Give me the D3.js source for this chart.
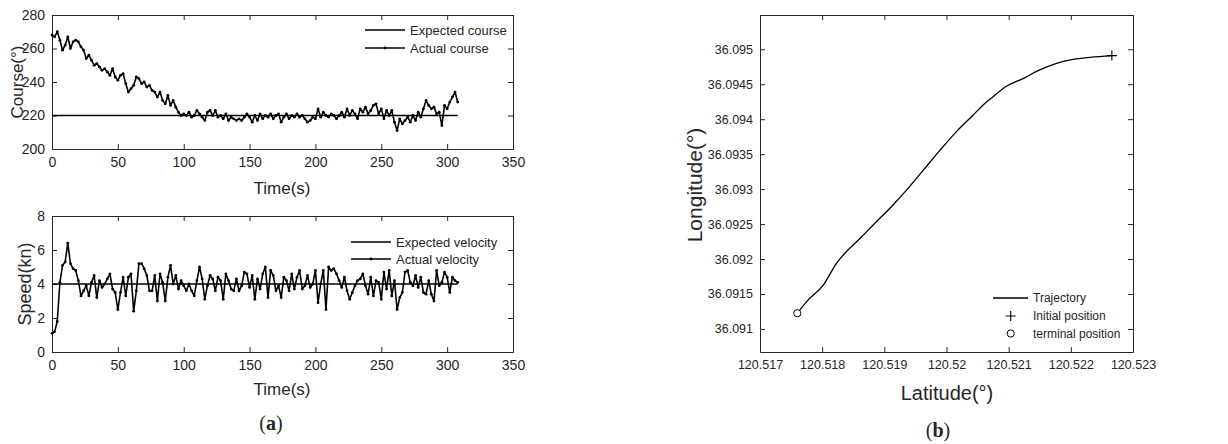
<!DOCTYPE html>
<html lang="en">
    <head>
        <meta charset="utf-8">
        <title>Course, speed and trajectory</title>
        <script src="https://d3js.org/d3.v7.min.js" charset="utf-8"></script>
        <style>
            body { margin: 0; background: #fff; }
            text { font-family: "Liberation Sans", Arial, sans-serif; fill: #262626; }
        </style>
    </head>
    <body>
        <script type="text/javascript">

            // page size
            var w = 1228;
            var h = 444;

            // sample times (s), one sample every 2 s
            var time = d3.range(0, 309, 2);

            // course (deg)
            var expectedCourse = 220;
            var actualCourse = [
                268,267,270,265,259,262,267,260,264,265,
                264,261,259,254,256,253,250,251,249,247,
                248,246,244,248,243,241,244,245,239,234,
                236,238,243,242,239,240,237,238,235,234,
                231,234,229,227,232,226,229,225,222,220,
                221,220,222,219,220,223,221,219,217,222,
                223,220,223,219,220,218,221,217,219,218,
                217,218,217,219,221,219,216,220,217,221,
                218,220,219,221,218,220,221,216,219,221,
                218,220,219,221,219,220,218,216,217,219,
                218,224,219,222,220,219,221,220,218,220,
                222,219,224,220,223,221,218,224,222,225,
                221,223,226,227,221,224,218,223,220,223,
                216,211,218,215,217,219,216,220,217,222,
                219,224,229,226,224,225,221,222,214,226,
                224,228,231,234,228
            ];

            // speed (kn)
            var expectedSpeed = 4;
            var actualSpeed = [
                1.1,1.2,1.8,4.1,5.1,5.3,6.4,5.2,4.9,4.8,
                4.2,3.3,3.6,3.9,3.3,4.1,4.5,3.2,4.2,3.8,
                4.0,4.3,4.6,3.7,3.5,2.5,3.5,4.4,3.3,4.4,
                4.6,2.4,3.6,5.2,5.2,4.9,4.5,3.6,3.6,4.5,
                3.0,4.6,4.1,3.0,4.4,5.1,4.0,4.5,3.7,4.2,
                3.9,3.6,4.0,3.6,3.3,4.2,5.0,4.3,3.1,3.9,
                4.5,4.3,3.6,4.4,4.2,3.1,4.6,4.2,3.7,3.6,
                4.3,3.6,3.9,4.7,4.6,3.8,4.5,3.1,4.3,3.7,
                4.6,5.0,3.2,4.8,4.5,3.6,3.9,3.2,4.4,4.2,
                3.6,4.6,3.7,4.4,4.8,3.7,3.9,4.5,3.8,4.0,
                4.8,2.9,4.0,4.8,2.5,5.0,4.8,4.9,4.6,4.2,
                3.8,4.4,3.6,3.1,3.5,3.9,4.2,4.3,4.6,3.9,
                3.4,4.4,3.3,4.2,4.1,3.1,4.7,3.7,4.8,3.3,
                4.2,2.5,3.2,3.5,4.7,4.8,4.1,3.9,4.5,3.8,
                4.4,3.5,3.4,4.2,3.4,3.0,4.8,3.9,4.1,4.7,
                4.4,3.5,4.4,4.2,4.1
            ];

            // trajectory (deg), from the terminal point to the initial point
            var trackLat = [120.51760,120.51775,120.51802,120.51823,120.51834,120.51861,120.51882,
                120.51914,120.51936,120.51963,120.51990,120.52016,120.52043,120.52059,
                120.52075,120.52097,120.52124,120.52150,120.52177,120.52204,120.52231,120.52266];
            var trackLon = [36.091224,36.091391,36.091629,36.091939,36.092058,36.092296,36.092487,
                36.092773,36.092988,36.093274,36.093560,36.093822,36.094060,36.094203,
                36.094322,36.094475,36.094584,36.094704,36.094799,36.094856,36.094885,36.094909];

            // tick values
            var timeTicks = [0, 50, 100, 150, 200, 250, 300, 350];
            var courseTicks = [200, 220, 240, 260, 280];
            var speedTicks = [0, 2, 4, 6, 8];
            var latTicks = [120.517, 120.518, 120.519, 120.520, 120.521, 120.522, 120.523];
            var lonTicks = [36.091, 36.0915, 36.092, 36.0925, 36.093, 36.0935, 36.094, 36.0945, 36.095];

            var svg = d3.select("body")
                .append("svg")
                .attr("width", w)
                .attr("height", h);

            // MATLAB style box: inward ticks on all four sides
            function drawBox(x, y, xTicks, yTicks, xFmt, yFmt, fontSize) {

                var x0 = x.range()[0], x1 = x.range()[1];
                var y0 = y.range()[0], y1 = y.range()[1];
                var g = svg.append("g");

                g.append("g").attr("transform", "translate(0," + y0 + ")")
                    .call(d3.axisBottom(x).tickValues(xTicks).tickFormat(xFmt).tickSizeInner(-5).tickSizeOuter(0).tickPadding(8));
                g.append("g").attr("transform", "translate(" + x0 + ",0)")
                    .call(d3.axisLeft(y).tickValues(yTicks).tickFormat(yFmt).tickSizeInner(-5).tickSizeOuter(0).tickPadding(7));
                g.append("g").attr("transform", "translate(0," + y1 + ")")
                    .call(d3.axisTop(x).tickValues(xTicks).tickFormat("").tickSizeInner(-5).tickSizeOuter(0));
                g.append("g").attr("transform", "translate(" + x1 + ",0)")
                    .call(d3.axisRight(y).tickValues(yTicks).tickFormat("").tickSizeInner(-5).tickSizeOuter(0));

                g.selectAll("path.domain").attr("stroke", "#262626");
                g.selectAll(".tick line").attr("stroke", "#262626");
                g.selectAll(".tick text")
                    .attr("fill", "#262626")
                    .style("font-family", "'Liberation Sans', Arial, sans-serif")
                    .style("font-size", fontSize + "px");
                return g;
            }

            function legendRow(lx, ly, label, kind, fontSize) {
                svg.append("line")
                    .attr("x1", lx).attr("x2", lx + 40)
                    .attr("y1", ly).attr("y2", ly)
                    .attr("stroke", "#000").attr("stroke-width", 1.3);
                if (kind == "dotline") {
                    svg.append("circle").attr("cx", lx + 20).attr("cy", ly).attr("r", 1.4).attr("fill", "#000");
                }
                svg.append("text")
                    .attr("x", lx + 45).attr("y", ly)
                    .attr("dy", "0.35em")
                    .style("font-size", fontSize + "px")
                    .text(label);
            }

            function seriesLine(x, y, values) {
                var pts = values.map(function (v, i) { return [time[i], v]; });
                svg.append("path")
                    .datum(pts)
                    .attr("fill", "none")
                    .attr("stroke", "#000")
                    .attr("stroke-width", 1.6)
                    .attr("stroke-linejoin", "round")
                    .attr("d", d3.line().x(function (d) { return x(d[0]); }).y(function (d) { return y(d[1]); }));
                svg.append("g").selectAll("circle")
                    .data(pts)
                    .enter()
                    .append("circle")
                    .attr("cx", function (d) { return x(d[0]); })
                    .attr("cy", function (d) { return y(d[1]); })
                    .attr("r", 1.4)
                    .attr("fill", "#000");
            }

            function flatLine(x, y, v) {
                svg.append("line")
                    .attr("x1", x(time[0])).attr("x2", x(time[time.length - 1]))
                    .attr("y1", y(v)).attr("y2", y(v))
                    .attr("stroke", "#000").attr("stroke-width", 1.4);
            }

            // ---------- course panel ----------
            var xTop = d3.scaleLinear().domain([0, 350]).range([52, 513]);
            var yCourse = d3.scaleLinear().domain([200, 280]).range([149, 15]);

            drawBox(xTop, yCourse, timeTicks, courseTicks, d3.format("d"), d3.format("d"), 14);
            flatLine(xTop, yCourse, expectedCourse);
            seriesLine(xTop, yCourse, actualCourse);

            svg.append("text")
                .attr("transform", "translate(23,82) rotate(-90)")
                .attr("text-anchor", "middle")
                .style("font-size", "17px")
                .text("Course(°)");
            svg.append("text")
                .attr("x", 282).attr("y", 194)
                .attr("text-anchor", "middle")
                .style("font-size", "17px")
                .text("Time(s)");

            legendRow(365, 30, "Expected course", "line", 13);
            legendRow(365, 48, "Actual course", "dotline", 13);

            // ---------- speed panel ----------
            var xBot = d3.scaleLinear().domain([0, 350]).range([52, 513]);
            var ySpeed = d3.scaleLinear().domain([0, 8]).range([352, 216]);

            drawBox(xBot, ySpeed, timeTicks, speedTicks, d3.format("d"), d3.format("d"), 14);
            flatLine(xBot, ySpeed, expectedSpeed);
            seriesLine(xBot, ySpeed, actualSpeed);

            svg.append("text")
                .attr("transform", "translate(31,284) rotate(-90)")
                .attr("text-anchor", "middle")
                .style("font-size", "18px")
                .text("Speed(kn)");
            svg.append("text")
                .attr("x", 282).attr("y", 395)
                .attr("text-anchor", "middle")
                .style("font-size", "17px")
                .text("Time(s)");

            legendRow(351, 242, "Expected velocity", "line", 13);
            legendRow(351, 259, "Actual velocity", "dotline", 13);

            // ---------- trajectory panel ----------
            var xLat = d3.scaleLinear().domain([120.517, 120.523]).range([760, 1133]);
            var yLon = d3.scaleLinear().domain([36.09067, 36.09549]).range([352, 15]);

            drawBox(xLat, yLon, latTicks, lonTicks, d3.format(".3~f"), d3.format(".4~f"), 12.5);

            var track = trackLat.map(function (v, i) { return [v, trackLon[i]]; });
            svg.append("path")
                .datum(track)
                .attr("fill", "none")
                .attr("stroke", "#000")
                .attr("stroke-width", 1.3)
                .attr("d", d3.line().curve(d3.curveMonotoneX)
                    .x(function (d) { return xLat(d[0]); })
                    .y(function (d) { return yLon(d[1]); }));

            // initial position (+) and terminal position (o)
            function drawPlus(cx, cy) {
                svg.append("path")
                    .attr("d", "M" + (cx - 5) + "," + cy + "H" + (cx + 5) + "M" + cx + "," + (cy - 5) + "V" + (cy + 5))
                    .attr("stroke", "#000").attr("stroke-width", 1.1);
            }
            var last = track[track.length - 1];
            drawPlus(xLat(last[0]), yLon(last[1]));
            svg.append("circle")
                .attr("cx", xLat(track[0][0])).attr("cy", yLon(track[0][1]))
                .attr("r", 3.6)
                .attr("fill", "#fff").attr("stroke", "#000").attr("stroke-width", 1);

            svg.append("text")
                .attr("transform", "translate(702,185) rotate(-90)")
                .attr("text-anchor", "middle")
                .style("font-size", "21px")
                .text("Longitude(°)");
            svg.append("text")
                .attr("x", 947).attr("y", 400)
                .attr("text-anchor", "middle")
                .style("font-size", "20px")
                .text("Latitude(°)");

            // legend
            svg.append("line").attr("x1", 993).attr("x2", 1028).attr("y1", 298).attr("y2", 298)
                .attr("stroke", "#000").attr("stroke-width", 1.3);
            drawPlus(1010.7, 316);
            svg.append("circle").attr("cx", 1010.7).attr("cy", 333.5).attr("r", 3.6)
                .attr("fill", "#fff").attr("stroke", "#000").attr("stroke-width", 1);
            [["Trajectory", 298], ["Initial position", 316], ["terminal position", 333.5]].forEach(function (r) {
                svg.append("text")
                    .attr("x", 1033).attr("y", r[1]).attr("dy", "0.35em")
                    .style("font-size", "12px")
                    .text(r[0]);
            });

            // panel captions
            function caption(cx, cy, letter) {
                var t = svg.append("text")
                    .attr("x", cx).attr("y", cy)
                    .attr("text-anchor", "middle")
                    .style("font-family", "'Liberation Serif', 'DejaVu Serif', serif")
                    .style("font-size", "20px")
                    .attr("fill", "#000");
                t.append("tspan").text("(");
                t.append("tspan").style("font-weight", "bold").text(letter);
                t.append("tspan").text(")");
            }
            caption(271, 430, "a");
            caption(938, 437, "b");

        </script>
    </body>
</html>
